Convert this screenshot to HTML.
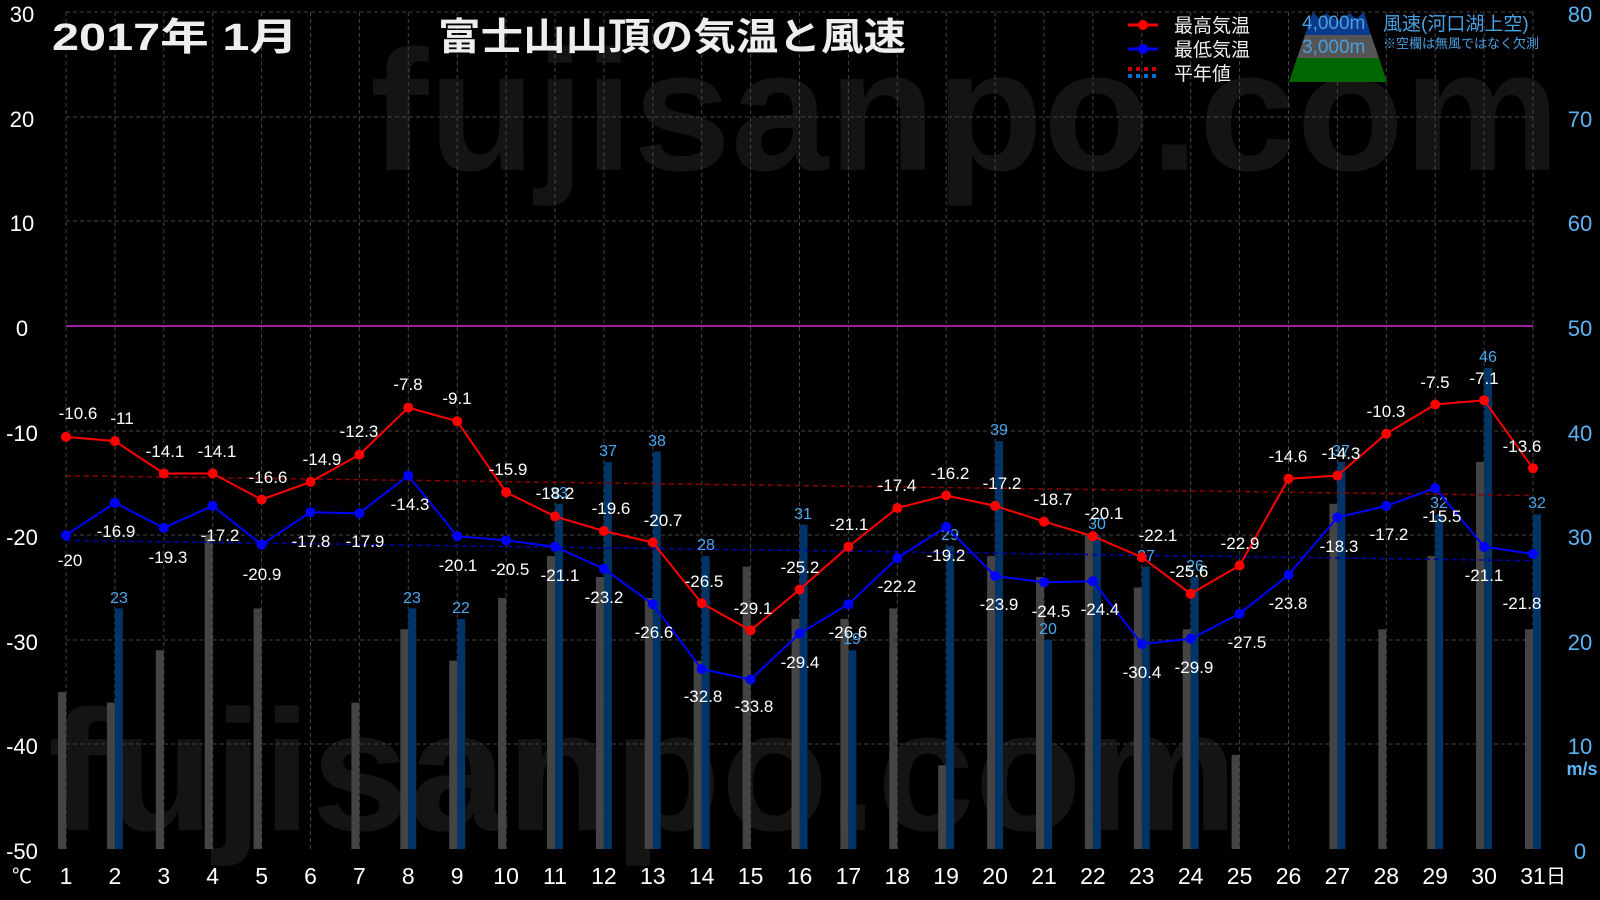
<!DOCTYPE html>
<html><head><meta charset="utf-8"><style>
html,body{margin:0;padding:0;background:#000;}
svg{display:block;}
text{font-family:"Liberation Sans","Noto Sans CJK JP",sans-serif;}
</style></head><body>
<svg width="1600" height="900" viewBox="0 0 1600 900" xmlns="http://www.w3.org/2000/svg">
<rect width="1600" height="900" fill="#000"/>
<text x="370" y="170" font-size="172" font-weight="bold" fill="#141414" textLength="1190" lengthAdjust="spacingAndGlyphs">fujisanpo.com</text>
<text x="48" y="830" font-size="172" font-weight="bold" fill="#141414" textLength="1190" lengthAdjust="spacingAndGlyphs">fujisanpo.com</text>
<g stroke="#444" stroke-width="1" stroke-dasharray="4,3">
<line x1="66" y1="12" x2="1533" y2="12"/><line x1="66" y1="117" x2="1533" y2="117"/><line x1="66" y1="221" x2="1533" y2="221"/>
<line x1="66" y1="431" x2="1533" y2="431"/><line x1="66" y1="535" x2="1533" y2="535"/><line x1="66" y1="640" x2="1533" y2="640"/><line x1="66" y1="744" x2="1533" y2="744"/>
<line x1="66" y1="12" x2="66" y2="849"/><line x1="114.9" y1="12" x2="114.9" y2="849"/><line x1="163.8" y1="12" x2="163.8" y2="849"/><line x1="212.7" y1="12" x2="212.7" y2="849"/><line x1="261.6" y1="12" x2="261.6" y2="849"/><line x1="310.5" y1="12" x2="310.5" y2="849"/><line x1="359.4" y1="12" x2="359.4" y2="849"/><line x1="408.3" y1="12" x2="408.3" y2="849"/><line x1="457.2" y1="12" x2="457.2" y2="849"/><line x1="506.1" y1="12" x2="506.1" y2="849"/><line x1="555" y1="12" x2="555" y2="849"/><line x1="603.9" y1="12" x2="603.9" y2="849"/><line x1="652.8" y1="12" x2="652.8" y2="849"/><line x1="701.7" y1="12" x2="701.7" y2="849"/><line x1="750.6" y1="12" x2="750.6" y2="849"/><line x1="799.5" y1="12" x2="799.5" y2="849"/><line x1="848.4" y1="12" x2="848.4" y2="849"/><line x1="897.3" y1="12" x2="897.3" y2="849"/><line x1="946.2" y1="12" x2="946.2" y2="849"/><line x1="995.1" y1="12" x2="995.1" y2="849"/><line x1="1044" y1="12" x2="1044" y2="849"/><line x1="1092.9" y1="12" x2="1092.9" y2="849"/><line x1="1141.8" y1="12" x2="1141.8" y2="849"/><line x1="1190.7" y1="12" x2="1190.7" y2="849"/><line x1="1239.6" y1="12" x2="1239.6" y2="849"/><line x1="1288.5" y1="12" x2="1288.5" y2="849"/><line x1="1337.4" y1="12" x2="1337.4" y2="849"/><line x1="1386.3" y1="12" x2="1386.3" y2="849"/><line x1="1435.2" y1="12" x2="1435.2" y2="849"/><line x1="1484.1" y1="12" x2="1484.1" y2="849"/><line x1="1533" y1="12" x2="1533" y2="849"/>
</g>
<line x1="66" y1="326" x2="1533" y2="326" stroke="#a020a0" stroke-width="2"/>
<g fill="#444">
<rect x="58" y="692.1" width="8" height="156.9"/><rect x="106.9" y="702.6" width="8" height="146.4"/><rect x="155.8" y="650.3" width="8" height="198.7"/><rect x="204.7" y="535.2" width="8" height="313.8"/><rect x="253.6" y="608.4" width="8" height="240.6"/>
<rect x="351.4" y="702.6" width="8" height="146.4"/><rect x="400.3" y="629.3" width="8" height="219.7"/><rect x="449.2" y="660.7" width="8" height="188.3"/><rect x="498.1" y="597.9" width="8" height="251.1"/><rect x="547" y="556.1" width="8" height="292.9"/>
<rect x="595.9" y="577" width="8" height="272"/><rect x="644.8" y="597.9" width="8" height="251.1"/><rect x="693.7" y="660.7" width="8" height="188.3"/><rect x="742.6" y="566.6" width="8" height="282.4"/><rect x="791.5" y="618.9" width="8" height="230.1"/>
<rect x="840.4" y="618.9" width="8" height="230.1"/><rect x="889.3" y="608.4" width="8" height="240.6"/><rect x="938.2" y="765.3" width="8" height="83.7"/><rect x="987.1" y="556.1" width="8" height="292.9"/><rect x="1036" y="577" width="8" height="272"/>
<rect x="1084.9" y="535.2" width="8" height="313.8"/><rect x="1133.8" y="587.5" width="8" height="261.5"/><rect x="1182.7" y="629.3" width="8" height="219.7"/><rect x="1231.6" y="754.9" width="8" height="94.1"/>
<rect x="1329.4" y="503.8" width="8" height="345.2"/><rect x="1378.3" y="629.3" width="8" height="219.7"/><rect x="1427.2" y="556.1" width="8" height="292.9"/><rect x="1476.1" y="462" width="8" height="387"/><rect x="1525" y="629.3" width="8" height="219.7"/>
</g>
<g fill="#003366">
<rect x="114.9" y="608.4" width="8" height="240.6"/><rect x="408.3" y="608.4" width="8" height="240.6"/><rect x="457.2" y="618.9" width="8" height="230.1"/><rect x="555" y="503.8" width="8" height="345.2"/><rect x="603.9" y="462" width="8" height="387"/><rect x="652.8" y="451.5" width="8" height="397.5"/><rect x="701.7" y="556.1" width="8" height="292.9"/><rect x="799.5" y="524.7" width="8" height="324.3"/><rect x="848.4" y="650.3" width="8" height="198.7"/><rect x="946.2" y="545.7" width="8" height="303.3"/><rect x="995.1" y="441.1" width="8" height="407.9"/><rect x="1044" y="639.8" width="8" height="209.2"/><rect x="1092.9" y="535.2" width="8" height="313.8"/><rect x="1141.8" y="566.6" width="8" height="282.4"/><rect x="1190.7" y="577" width="8" height="272"/><rect x="1337.4" y="462" width="8" height="387"/><rect x="1435.2" y="514.3" width="8" height="334.7"/><rect x="1484.1" y="367.8" width="8" height="481.2"/><rect x="1533" y="514.3" width="8" height="334.7"/>
</g>
<line x1="66" y1="475.7" x2="1533" y2="495.5" stroke="#8b0000" stroke-width="1.5" stroke-dasharray="5,4"/>
<line x1="66" y1="540.4" x2="1533" y2="560.7" stroke="#0000b0" stroke-width="1.5" stroke-dasharray="5,4"/>
<g fill="#4aa8f0" font-size="16" text-anchor="middle">
<text x="119" y="603">23</text><text x="412" y="603">23</text><text x="461" y="613">22</text><text x="559" y="498">33</text><text x="608" y="456">37</text><text x="657" y="446">38</text><text x="706" y="550">28</text><text x="803" y="519">31</text><text x="852" y="644">19</text><text x="950" y="540">29</text><text x="999" y="435">39</text><text x="1048" y="634">20</text><text x="1097" y="529">30</text><text x="1146" y="561">27</text><text x="1195" y="571">26</text><text x="1341" y="456">37</text><text x="1439" y="508">32</text><text x="1488" y="362">46</text><text x="1537" y="508">32</text>
</g>
<polyline fill="none" stroke="#ff0000" stroke-width="2" points="66,436.9 114.9,441.1 163.8,473.5 212.7,473.5 261.6,499.6 310.5,481.9 359.4,454.7 408.3,407.6 457.2,421.2 506.1,492.3 555,516.4 603.9,531 652.8,542.5 701.7,603.2 750.6,630.4 799.5,589.6 848.4,546.7 897.3,508 946.2,495.5 995.1,505.9 1044,521.6 1092.9,536.2 1141.8,557.2 1190.7,593.8 1239.6,565.5 1288.5,478.7 1337.4,475.6 1386.3,433.7 1435.2,404.5 1484.1,400.3 1533,468.3"/>
<g fill="#ff0000">
<circle cx="66" cy="436.9" r="5"/><circle cx="114.9" cy="441.1" r="5"/><circle cx="163.8" cy="473.5" r="5"/><circle cx="212.7" cy="473.5" r="5"/><circle cx="261.6" cy="499.6" r="5"/><circle cx="310.5" cy="481.9" r="5"/><circle cx="359.4" cy="454.7" r="5"/><circle cx="408.3" cy="407.6" r="5"/><circle cx="457.2" cy="421.2" r="5"/><circle cx="506.1" cy="492.3" r="5"/><circle cx="555" cy="516.4" r="5"/><circle cx="603.9" cy="531" r="5"/><circle cx="652.8" cy="542.5" r="5"/><circle cx="701.7" cy="603.2" r="5"/><circle cx="750.6" cy="630.4" r="5"/><circle cx="799.5" cy="589.6" r="5"/><circle cx="848.4" cy="546.7" r="5"/><circle cx="897.3" cy="508" r="5"/><circle cx="946.2" cy="495.5" r="5"/><circle cx="995.1" cy="505.9" r="5"/><circle cx="1044" cy="521.6" r="5"/><circle cx="1092.9" cy="536.2" r="5"/><circle cx="1141.8" cy="557.2" r="5"/><circle cx="1190.7" cy="593.8" r="5"/><circle cx="1239.6" cy="565.5" r="5"/><circle cx="1288.5" cy="478.7" r="5"/><circle cx="1337.4" cy="475.6" r="5"/><circle cx="1386.3" cy="433.7" r="5"/><circle cx="1435.2" cy="404.5" r="5"/><circle cx="1484.1" cy="400.3" r="5"/><circle cx="1533" cy="468.3" r="5"/>
</g>
<polyline fill="none" stroke="#0000ff" stroke-width="2" points="66,535.2 114.9,502.8 163.8,527.9 212.7,505.9 261.6,544.6 310.5,512.2 359.4,513.2 408.3,475.6 457.2,536.2 506.1,540.4 555,546.7 603.9,568.7 652.8,604.2 701.7,669.1 750.6,679.5 799.5,633.5 848.4,604.2 897.3,558.2 946.2,526.8 995.1,576 1044,582.3 1092.9,581.2 1141.8,644 1190.7,638.8 1239.6,613.7 1288.5,574.9 1337.4,517.4 1386.3,505.9 1435.2,488.1 1484.1,546.7 1533,554"/>
<g fill="#0000ff">
<circle cx="66" cy="535.2" r="5"/><circle cx="114.9" cy="502.8" r="5"/><circle cx="163.8" cy="527.9" r="5"/><circle cx="212.7" cy="505.9" r="5"/><circle cx="261.6" cy="544.6" r="5"/><circle cx="310.5" cy="512.2" r="5"/><circle cx="359.4" cy="513.2" r="5"/><circle cx="408.3" cy="475.6" r="5"/><circle cx="457.2" cy="536.2" r="5"/><circle cx="506.1" cy="540.4" r="5"/><circle cx="555" cy="546.7" r="5"/><circle cx="603.9" cy="568.7" r="5"/><circle cx="652.8" cy="604.2" r="5"/><circle cx="701.7" cy="669.1" r="5"/><circle cx="750.6" cy="679.5" r="5"/><circle cx="799.5" cy="633.5" r="5"/><circle cx="848.4" cy="604.2" r="5"/><circle cx="897.3" cy="558.2" r="5"/><circle cx="946.2" cy="526.8" r="5"/><circle cx="995.1" cy="576" r="5"/><circle cx="1044" cy="582.3" r="5"/><circle cx="1092.9" cy="581.2" r="5"/><circle cx="1141.8" cy="644" r="5"/><circle cx="1190.7" cy="638.8" r="5"/><circle cx="1239.6" cy="613.7" r="5"/><circle cx="1288.5" cy="574.9" r="5"/><circle cx="1337.4" cy="517.4" r="5"/><circle cx="1386.3" cy="505.9" r="5"/><circle cx="1435.2" cy="488.1" r="5"/><circle cx="1484.1" cy="546.7" r="5"/><circle cx="1533" cy="554" r="5"/>
</g>
<g fill="#fff" font-size="17" text-anchor="middle">
<text x="78" y="419">-10.6</text><text x="122" y="424">-11</text><text x="165" y="457">-14.1</text><text x="217" y="457">-14.1</text><text x="268" y="483">-16.6</text><text x="322" y="465">-14.9</text><text x="359" y="437">-12.3</text><text x="408" y="390">-7.8</text><text x="457" y="404">-9.1</text><text x="508" y="475">-15.9</text><text x="555" y="499">-18.2</text><text x="611" y="514">-19.6</text><text x="663" y="526">-20.7</text><text x="704" y="587">-26.5</text><text x="753" y="614">-29.1</text><text x="800" y="573">-25.2</text><text x="849" y="530">-21.1</text><text x="897" y="491">-17.4</text><text x="950" y="479">-16.2</text><text x="1002" y="489">-17.2</text><text x="1053" y="505">-18.7</text><text x="1104" y="519">-20.1</text><text x="1158" y="541">-22.1</text><text x="1189" y="577">-25.6</text><text x="1240" y="549">-22.9</text><text x="1288" y="462">-14.6</text><text x="1341" y="459">-14.3</text><text x="1386" y="417">-10.3</text><text x="1435" y="388">-7.5</text><text x="1484" y="384">-7.1</text><text x="1522" y="452">-13.6</text>
</g>
<g fill="#fff" font-size="17" text-anchor="middle">
<text x="70" y="566">-20</text><text x="116" y="537">-16.9</text><text x="168" y="563">-19.3</text><text x="220" y="541">-17.2</text><text x="262" y="580">-20.9</text><text x="311" y="547">-17.8</text><text x="365" y="547">-17.9</text><text x="410" y="510">-14.3</text><text x="458" y="571">-20.1</text><text x="510" y="575">-20.5</text><text x="560" y="581">-21.1</text><text x="604" y="603">-23.2</text><text x="654" y="638">-26.6</text><text x="703" y="702">-32.8</text><text x="754" y="712">-33.8</text><text x="800" y="668">-29.4</text><text x="848" y="638">-26.6</text><text x="897" y="592">-22.2</text><text x="946" y="561">-19.2</text><text x="999" y="610">-23.9</text><text x="1051" y="617">-24.5</text><text x="1100" y="615">-24.4</text><text x="1142" y="678">-30.4</text><text x="1194" y="673">-29.9</text><text x="1247" y="648">-27.5</text><text x="1288" y="609">-23.8</text><text x="1339" y="552">-18.3</text><text x="1389" y="540">-17.2</text><text x="1442" y="522">-15.5</text><text x="1484" y="581">-21.1</text><text x="1522" y="609">-21.8</text>
</g>
<g fill="#fff" font-size="22" text-anchor="middle">
<text x="22" y="22">30</text><text x="22" y="127">20</text><text x="22" y="231">10</text><text x="22" y="336">0</text><text x="22" y="441">-10</text><text x="22" y="545">-20</text><text x="22" y="650">-30</text><text x="22" y="754">-40</text><text x="22" y="859">-50</text>
<text x="22" y="883" font-size="20">℃</text>
</g>
<g fill="#5ab4f5" font-size="22" text-anchor="middle">
<text x="1580" y="22">80</text><text x="1580" y="127">70</text><text x="1580" y="231">60</text><text x="1580" y="336">50</text><text x="1580" y="441">40</text><text x="1580" y="545">30</text><text x="1580" y="650">20</text><text x="1580" y="754">10</text><text x="1580" y="859">0</text>
<text x="1582" y="775" font-size="18" font-weight="bold">m/s</text>
</g>
<g fill="#fff" font-size="23" text-anchor="middle">
<text x="66" y="884">1</text><text x="114.9" y="884">2</text><text x="163.8" y="884">3</text><text x="212.7" y="884">4</text><text x="261.6" y="884">5</text><text x="310.5" y="884">6</text><text x="359.4" y="884">7</text><text x="408.3" y="884">8</text><text x="457.2" y="884">9</text><text x="506.1" y="884">10</text><text x="555" y="884">11</text><text x="603.9" y="884">12</text><text x="652.8" y="884">13</text><text x="701.7" y="884">14</text><text x="750.6" y="884">15</text><text x="799.5" y="884">16</text><text x="848.4" y="884">17</text><text x="897.3" y="884">18</text><text x="946.2" y="884">19</text><text x="995.1" y="884">20</text><text x="1044" y="884">21</text><text x="1092.9" y="884">22</text><text x="1141.8" y="884">23</text><text x="1190.7" y="884">24</text><text x="1239.6" y="884">25</text><text x="1288.5" y="884">26</text><text x="1337.4" y="884">27</text><text x="1386.3" y="884">28</text><text x="1435.2" y="884">29</text><text x="1484.1" y="884">30</text><text x="1533" y="884">31</text>
<text x="1556" y="883" font-size="20">日</text>
</g>
<text x="52" y="50" fill="#eee" font-size="38" font-weight="bold" textLength="246" lengthAdjust="spacingAndGlyphs">2017年  1月</text>
<text x="438" y="50" fill="#eee" font-size="38" font-weight="bold" textLength="468" lengthAdjust="spacingAndGlyphs">富士山山頂の気温と風速</text>
<line x1="1128" y1="25" x2="1158" y2="25" stroke="#f00" stroke-width="3"/><circle cx="1143" cy="25" r="5" fill="#f00"/>
<line x1="1128" y1="49" x2="1158" y2="49" stroke="#00f" stroke-width="3"/><circle cx="1143" cy="49" r="5" fill="#00f"/>
<line x1="1128" y1="69" x2="1157" y2="69" stroke="#c00" stroke-width="4" stroke-dasharray="4,4"/>
<line x1="1128" y1="76" x2="1157" y2="76" stroke="#0070d0" stroke-width="4" stroke-dasharray="4,4"/>
<g fill="#eee" font-size="19"><text x="1174" y="32">最高気温</text><text x="1174" y="56">最低気温</text><text x="1174" y="80">平年値</text></g>
<polygon points="1313,12 1320,20 1326,13 1338,21 1350,13 1356,19 1364,12 1371,35 1305,35" fill="#0b3a8c"/>
<polygon points="1305,35 1371,35 1379,58 1297,58" fill="#555"/>
<polygon points="1297,58 1379,58 1387,82 1289,82" fill="#006600"/>
<g fill="#4a9fe0" font-size="19"><text x="1302" y="29">4,000m</text><text x="1302" y="53">3,000m</text>
<text x="1383" y="30">風速(河口湖上空)</text><text x="1383" y="48" font-size="13">※空欄は無風ではなく欠測</text></g>
</svg>
</body></html>
